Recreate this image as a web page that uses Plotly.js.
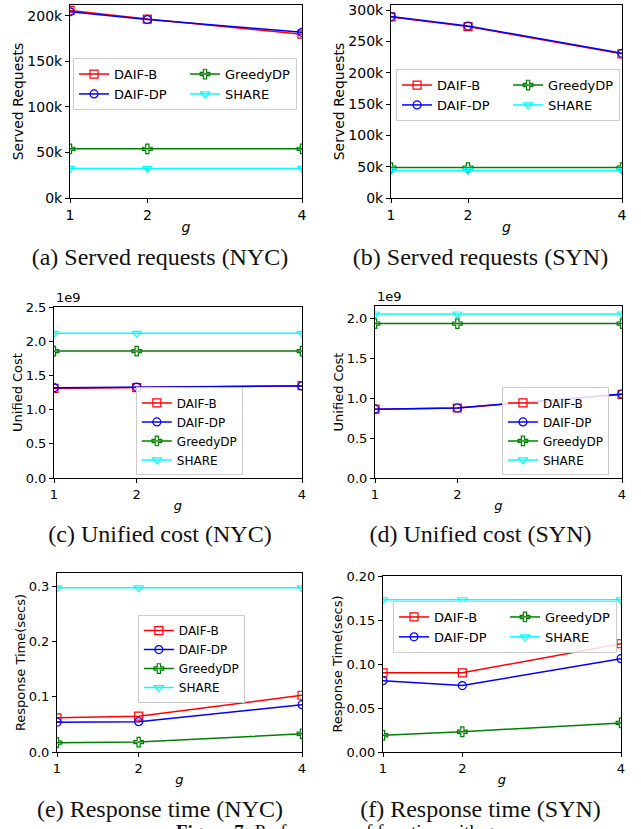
<!DOCTYPE html>
<html><head><meta charset="utf-8">
<script src="https://cdn.plot.ly/plotly-3.0.1.min.js"></script>
<style>
body{margin:0;background:#fff;width:641px;height:829px;overflow:hidden;position:relative;}
.p{position:absolute;}
.cap{position:absolute;font-family:"Liberation Serif",serif;font-size:24px;line-height:24px;text-align:center;white-space:nowrap;color:#111;}
.fig{position:absolute;font-family:"Liberation Serif",serif;font-size:19px;line-height:19px;white-space:nowrap;color:#111;}
</style></head><body>
<div id="pa" class="p" style="left:0;top:0;width:320px;height:240px"></div>
<div id="pb" class="p" style="left:320px;top:0;width:321px;height:240px"></div>
<div id="pc" class="p" style="left:0;top:280px;width:320px;height:240px"></div>
<div id="pd" class="p" style="left:320px;top:280px;width:321px;height:240px"></div>
<div id="pe" class="p" style="left:0;top:560px;width:320px;height:240px"></div>
<div id="pf" class="p" style="left:320px;top:560px;width:321px;height:240px"></div>
<div class="cap" style="left:0;width:320px;top:245px">(a)&nbsp;Served requests (NYC)</div>
<div class="cap" style="left:320px;width:321px;top:245px">(b)&nbsp;Served requests (SYN)</div>
<div class="cap" style="left:0;width:320px;top:522px">(c)&nbsp;Unified cost (NYC)</div>
<div class="cap" style="left:320px;width:321px;top:522px">(d)&nbsp;Unified cost (SYN)</div>
<div class="cap" style="left:0;width:320px;top:797px">(e)&nbsp;Response time (NYC)</div>
<div class="cap" style="left:320px;width:321px;top:797px">(f)&nbsp;Response time (SYN)</div>
<div class="fig" style="left:176px;top:822px"><b>Figure 7:</b> Performance of function with g</div>
<script>
// ---- data ----
const gValues = [1, 2, 4];
const seriesNames = ['DAIF-B', 'DAIF-DP', 'GreedyDP', 'SHARE'];

const servedNYC_daifB = [206000, 196500, 180000];
const servedNYC_daifDP = [204500, 196000, 182000];
const servedNYC_greedy = [54000, 54000, 54000];
const servedNYC_share = [32500, 32500, 32500];

const servedSYN_daifB = [289000, 273500, 230000];
const servedSYN_daifDP = [289500, 274500, 231000];
const servedSYN_greedy = [48500, 48500, 48500];
const servedSYN_share = [44000, 44000, 44000];

const costNYC_daifB = [1.31e9, 1.32e9, 1.35e9];
const costNYC_daifDP = [1.32e9, 1.33e9, 1.345e9];
const costNYC_greedy = [1.855e9, 1.855e9, 1.855e9];
const costNYC_share = [2.115e9, 2.115e9, 2.115e9];

const costSYN_daifB = [0.86e9, 0.875e9, 1.045e9];
const costSYN_daifDP = [0.86e9, 0.875e9, 1.05e9];
const costSYN_greedy = [1.93e9, 1.93e9, 1.93e9];
const costSYN_share = [2.05e9, 2.05e9, 2.05e9];

const timeNYC_daifB = [0.062, 0.065, 0.103];
const timeNYC_daifDP = [0.054, 0.055, 0.086];
const timeNYC_greedy = [0.017, 0.018, 0.033];
const timeNYC_share = [0.298, 0.298, 0.298];

const timeSYN_daifB = [0.090, 0.090, 0.123];
const timeSYN_daifDP = [0.081, 0.0755, 0.106];
const timeSYN_greedy = [0.019, 0.023, 0.033];
const timeSYN_share = [0.173, 0.173, 0.173];

const servedNYCTicks = [0, 50000, 100000, 150000, 200000];
const servedNYCLabels = ['0k', '50k', '100k', '150k', '200k'];
const servedSYNTicks = [0, 50000, 100000, 150000, 200000, 250000, 300000];
const servedSYNLabels = ['0k', '50k', '100k', '150k', '200k', '250k', '300k'];
const costNYCTicks = [0, 0.5e9, 1.0e9, 1.5e9, 2.0e9, 2.5e9];
const costNYCLabels = ['0.0', '0.5', '1.0', '1.5', '2.0', '2.5'];
const costSYNTicks = [0, 0.5e9, 1.0e9, 1.5e9, 2.0e9];
const costSYNLabels = ['0.0', '0.5', '1.0', '1.5', '2.0'];
const timeNYCTicks = [0, 0.1, 0.2, 0.3];
const timeNYCLabels = ['0.0', '0.1', '0.2', '0.3'];
const timeSYNTicks = [0, 0.05, 0.10, 0.15, 0.20];
const timeSYNLabels = ['0.00', '0.05', '0.10', '0.15', '0.20'];
const xTickLabels = ['1', '2', '4'];

// ---- styles ----
const styles = [
  {color: '#ff0000', symbol: 'square-open'},
  {color: '#0000ff', symbol: 'circle-open'},
  {color: '#008000', symbol: 'cross-open'},
  {color: '#00ffff', symbol: 'triangle-down-open'}
];
const FONT = 'DejaVu Sans, sans-serif';

function makePanel(id, ys, opt) {
  const horiz = opt.horizontal;
  const ranksH = [1, 3, 2, 4];
  const traces = ys.map((y, i) => ({
    type: 'scatter', mode: 'lines+markers', x: gValues, y: y, name: seriesNames[i],
    legendrank: horiz ? ranksH[i] : i + 1,
    line: {color: styles[i].color, width: 1.5},
    marker: {symbol: styles[i].symbol, color: styles[i].color, size: 8, line: {width: 1.2, color: styles[i].color}}
  }));
  const fs = opt.fs;
  const layout = {
    width: opt.w, height: 240,
    margin: {l: opt.l, r: opt.r, t: opt.t, b: opt.b},
    paper_bgcolor: 'rgba(0,0,0,0)', plot_bgcolor: '#fff',
    font: {family: FONT, color: '#000', size: fs},
    showlegend: true,
    legend: {
      orientation: horiz ? 'h' : 'v',
      entrywidth: horiz ? opt.ew : undefined,
      x: opt.lx, y: opt.ly, xanchor: 'left', yanchor: opt.lya || 'top',
      bgcolor: 'rgba(255,255,255,0.85)', bordercolor: '#cccccc', borderwidth: 1,
      font: {family: FONT, size: opt.lfs, color: '#000'},
      tracegroupgap: 0
    },
    xaxis: {
      range: [1, 4], tickvals: gValues, ticktext: xTickLabels,
      showline: true, linecolor: '#000', linewidth: 1, mirror: true,
      ticks: 'outside', ticklen: 4, tickcolor: '#000', showgrid: false, zeroline: false,
      tickfont: {family: FONT, size: fs},
      title: {text: '<i>g</i>', font: {family: FONT, size: fs}, standoff: 0}
    },
    yaxis: {
      range: opt.yr, tickvals: opt.tv, ticktext: opt.tt,
      showline: true, linecolor: '#000', linewidth: 1, mirror: true,
      ticks: 'outside', ticklen: 4, tickcolor: '#000', showgrid: false, zeroline: false,
      tickfont: {family: FONT, size: fs},
      title: {text: opt.ytitle, font: {family: FONT, size: fs}, standoff: 0}
    },
    annotations: opt.offset ? [{
      text: opt.offset, xref: 'paper', yref: 'paper', x: 0, y: 1,
      xanchor: 'left', yanchor: 'bottom', showarrow: false,
      font: {family: FONT, size: fs}
    }] : []
  };
  Plotly.newPlot(id, traces, layout, {staticPlot: true, displayModeBar: false});
}

makePanel('pa', [servedNYC_daifB, servedNYC_daifDP, servedNYC_greedy, servedNYC_share],
  {w: 320, l: 70, r: 18, t: 5, b: 42, yr: [0, 212000], tv: servedNYCTicks, tt: servedNYCLabels,
   ytitle: 'Served Requests', fs: 14, lfs: 13, horizontal: true, ew: 66, lx: 0.013, ly: 0.725});
makePanel('pb', [servedSYN_daifB, servedSYN_daifDP, servedSYN_greedy, servedSYN_share],
  {w: 321, l: 71, r: 19, t: 5, b: 42, yr: [0, 308000], tv: servedSYNTicks, tt: servedSYNLabels,
   ytitle: 'Served Requests', fs: 14, lfs: 13, horizontal: true, ew: 66, lx: 0.022, ly: 0.668});
makePanel('pc', [costNYC_daifB, costNYC_daifDP, costNYC_greedy, costNYC_share],
  {w: 320, l: 54, r: 18, t: 27, b: 42, yr: [0, 2.5e9], tv: costNYCTicks, tt: costNYCLabels,
   ytitle: 'Unified Cost', fs: 13, lfs: 12, horizontal: false, lx: 0.33, ly: 0.015, lya: 'bottom', offset: '1e9'});
makePanel('pd', [costSYN_daifB, costSYN_daifDP, costSYN_greedy, costSYN_share],
  {w: 321, l: 55, r: 19, t: 26, b: 42, yr: [0, 2.15e9], tv: costSYNTicks, tt: costSYNLabels,
   ytitle: 'Unified Cost', fs: 13, lfs: 12, horizontal: false, lx: 0.514, ly: 0.015, lya: 'bottom', offset: '1e9'});
makePanel('pe', [timeNYC_daifB, timeNYC_daifDP, timeNYC_greedy, timeNYC_share],
  {w: 320, l: 57, r: 18, t: 13, b: 48, yr: [0, 0.325], tv: timeNYCTicks, tt: timeNYCLabels,
   ytitle: 'Response Time(secs)', fs: 13, lfs: 12, horizontal: false, lx: 0.33, ly: 0.765});
makePanel('pf', [timeSYN_daifB, timeSYN_daifDP, timeSYN_greedy, timeSYN_share],
  {w: 321, l: 63, r: 20, t: 16, b: 48, yr: [0, 0.2], tv: timeSYNTicks, tt: timeSYNLabels,
   ytitle: 'Response Time(secs)', fs: 13, lfs: 13, horizontal: true, ew: 66, lx: 0.042, ly: 0.858});
</script>
</body></html>
